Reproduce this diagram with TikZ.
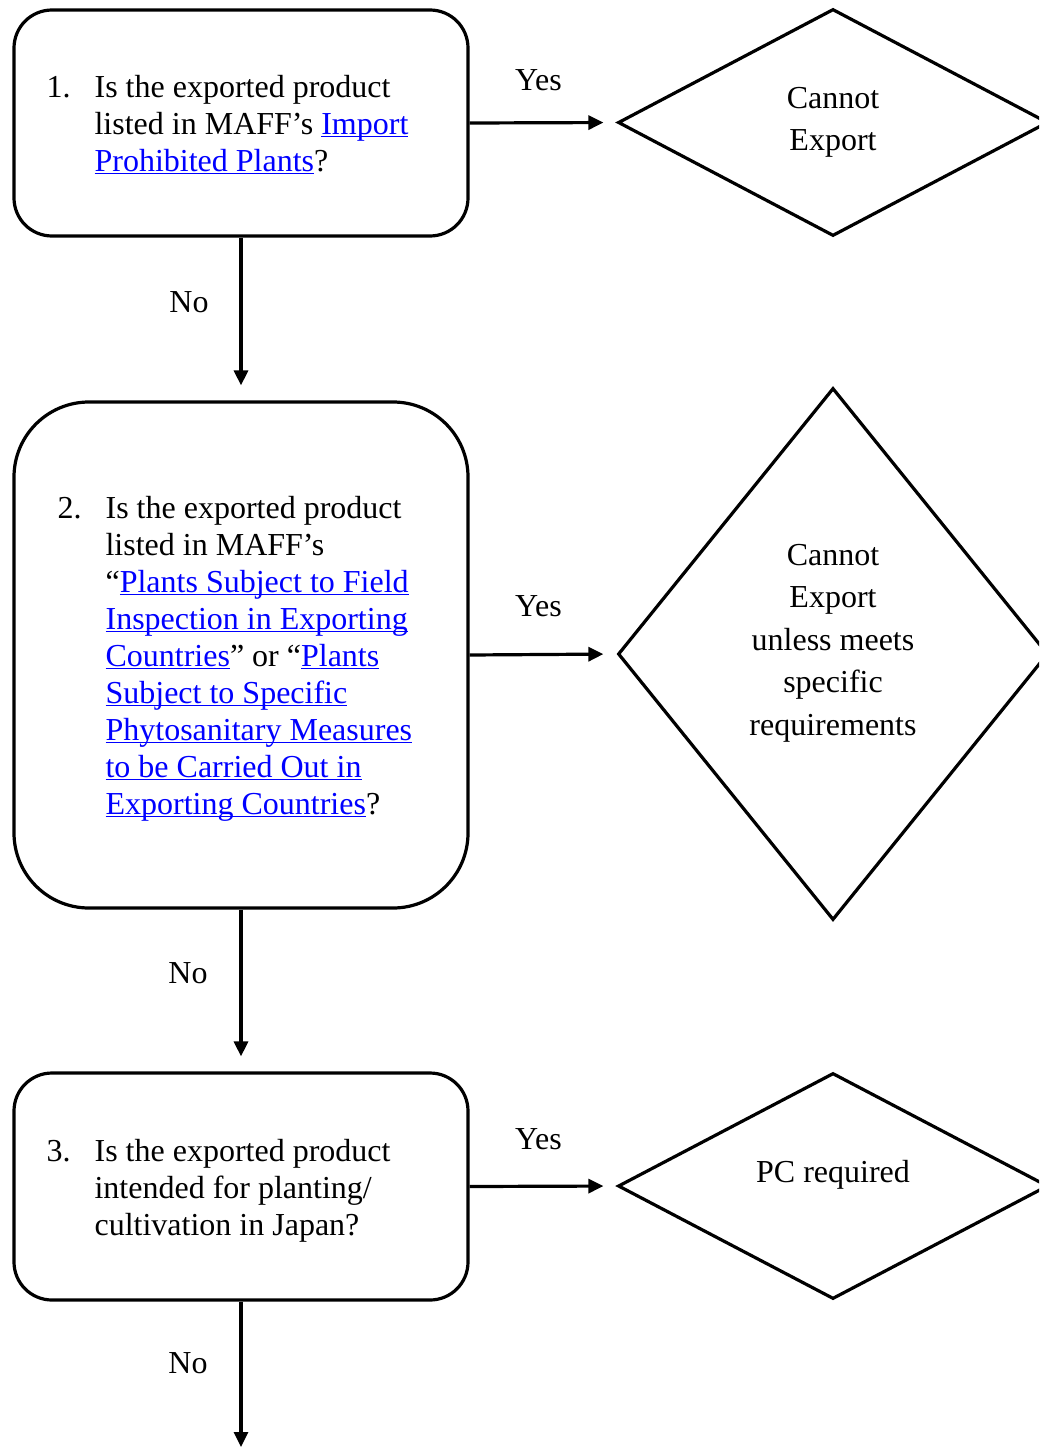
\documentclass[tikz,border=0pt]{standalone}
\usepackage{fontspec}
\setmainfont{Liberation Serif}
\usetikzlibrary{arrows.meta,shapes.geometric}
\definecolor{lnk}{RGB}{0,0,255}
\newcommand\lk[1]{{\color{lnk}\setbox0=\hbox{#1}\rlap{\rule[-3.4pt]{\wd0}{1.8pt}}\box0}}
\begin{document}
\begin{tikzpicture}[x=1pt,y=-1pt,line width=3.2pt,
  qbox/.style={draw, rectangle, rounded corners=38pt, minimum width=454pt, minimum height=226pt, inner sep=0pt},
  dia/.style={draw, diamond, minimum width=430pt, minimum height=227pt, inner sep=0pt},
  txt/.style={inner sep=0pt, anchor=base west, font=\fontsize{32}{37}\selectfont},
  dtxt/.style={inner sep=0pt, anchor=base},
  lbl/.style={inner sep=0pt, anchor=base, font=\fontsize{32}{36}\selectfont},
  arr/.style={-{Triangle[length=15pt,width=14pt]}, line width=3.2pt}]
\useasboundingbox (0,0) rectangle (1039,1448);
\clip (0,0) rectangle (1039,1448);

% question boxes
\node[qbox] (b1) at (241,123) {};
\node[qbox, minimum height=506pt, rounded corners=75pt] (b2) at (241,655) {};
\node[qbox, minimum height=227pt] (b3) at (241,1186.5) {};

% result diamonds
\node[dia] (d1) at (833,122.5) {};
\node[dia, minimum height=532pt] (d2) at (833,654) {};
\node[dia, minimum height=226pt] (d3) at (833,1186) {};

% box texts
\node[txt] (t1) at (45,97) {\begin{tabular}[t]{@{}l@{}l@{}}\makebox[48pt][l]{1.} & Is the exported product\\ & listed in MAFF’s \lk{Import}\\ & \lk{Prohibited Plants}?\end{tabular}};
\node[txt] (t2) at (56,518) {\begin{tabular}[t]{@{}l@{}l@{}}\makebox[48pt][l]{2.} & Is the exported product\\ & listed in MAFF’s\\ & “\lk{Plants Subject to Field}\\ & \lk{Inspection in Exporting}\\ & \lk{Countries}” or “\lk{Plants}\\ & \lk{Subject to Specific}\\ & \lk{Phytosanitary Measures}\\ & \lk{to be Carried Out in}\\ & \lk{Exporting Countries}?\end{tabular}};
\node[txt] (t3) at (45,1161) {\begin{tabular}[t]{@{}l@{}l@{}}\makebox[48pt][l]{3.} & Is the exported product\\ & intended for planting/\\ & cultivation in Japan?\end{tabular}};

% diamond texts
\node[dtxt, font=\fontsize{32}{42.5}\selectfont] (dt1) at (833,108) {\begin{tabular}[t]{@{}c@{}}Cannot\\Export\end{tabular}};
\node[dtxt, font=\fontsize{32}{42.5}\selectfont] (dt2) at (833,565) {\begin{tabular}[t]{@{}c@{}}Cannot\\Export\\unless meets\\specific\\requirements\end{tabular}};
\node[dtxt, font=\fontsize{32}{40}\selectfont] (dt3) at (833,1182) {PC required};

% labels
\node[lbl] (y1) at (538.5,90) {Yes};
\node[lbl] (y2) at (538.5,616) {Yes};
\node[lbl] (y3) at (538.5,1149) {Yes};
\node[lbl] (n1) at (189,312) {No};
\node[lbl] (n2) at (188,983) {No};
\node[lbl] (n3) at (188,1373) {No};

% connectors
\draw[arr, shorten >=13pt] (b1.east) -- (d1.west);
\draw[arr, shorten >=15pt] (b1.south) -- (b2.north);
\draw[arr, shorten >=13pt] (b2.east) -- (d2.west);
\draw[arr, shorten >=15pt] (b2.south) -- (b3.north);
\draw[arr, shorten >=13pt] (b3.east) -- (d3.west);
\coordinate (end) at (242,1447);
\draw[arr] (b3.south) -- (b3.south |- end);
\end{tikzpicture}
\end{document}
